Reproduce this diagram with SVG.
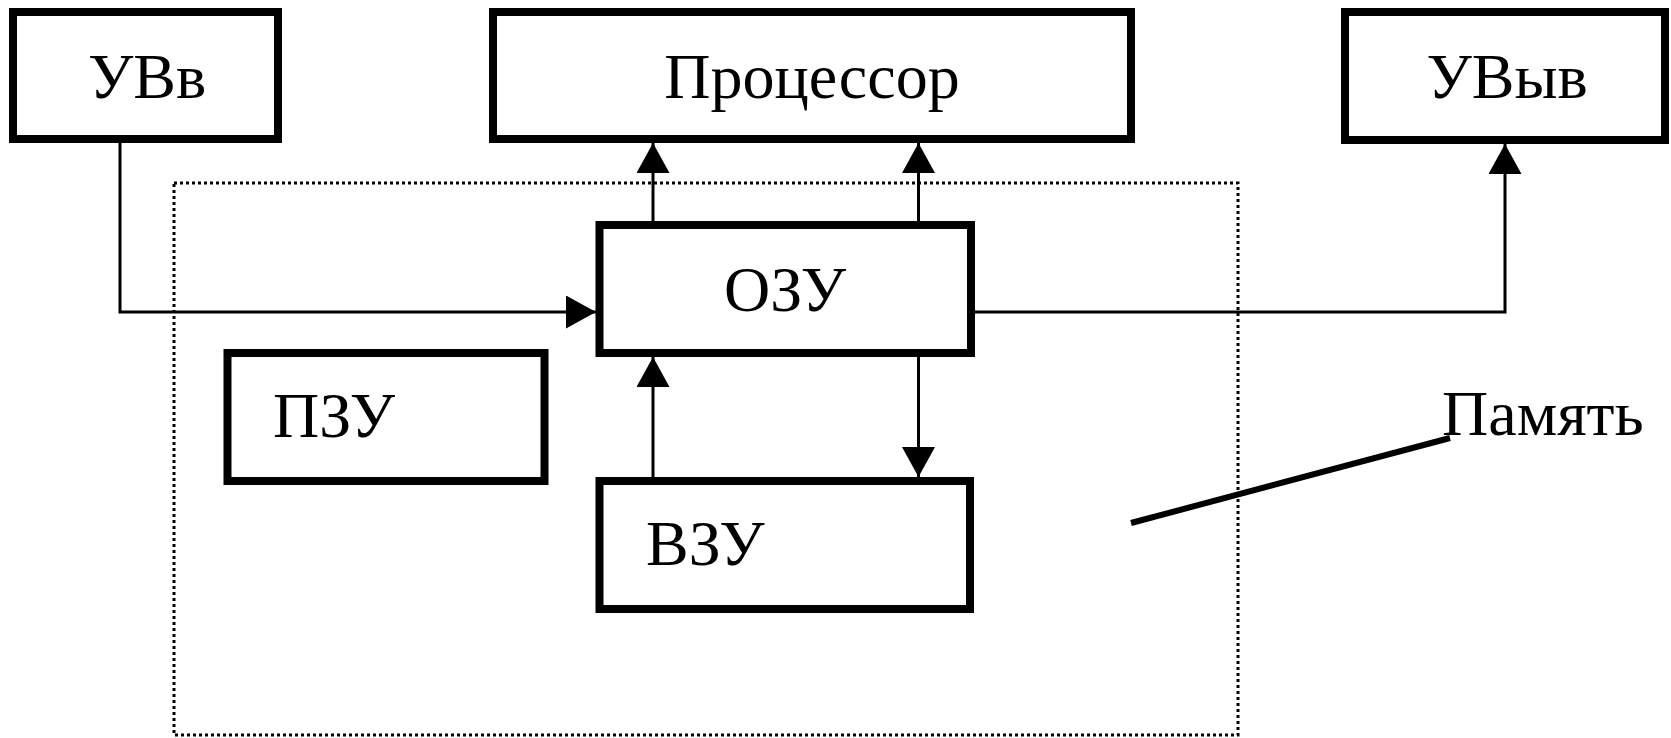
<svg xmlns="http://www.w3.org/2000/svg" width="1671" height="738" viewBox="0 0 1671 738">
<style>
.box{fill:#fff;stroke:#000;stroke-width:8}
.lbl{font-family:"Liberation Serif","Times New Roman",serif;font-size:64px;fill:#000}
.mid{text-anchor:middle}
.con{fill:none;stroke:#000;stroke-width:3}
.mem{fill:none;stroke:#000;stroke-width:3;stroke-dasharray:3 3}
</style>
<defs>
<marker id="arr" markerUnits="userSpaceOnUse" markerWidth="30" markerHeight="33" refX="30" refY="16.5" orient="auto">
<path d="M0,0 L30,16.5 L0,33 z" fill="#000"/>
</marker>
</defs>
<rect width="1671" height="738" fill="#fff"/>
<g id="memory">
<rect class="mem" x="174" y="183" width="1064" height="552"/>
<line x1="1131" y1="523" x2="1450" y2="438" stroke="#000" stroke-width="6"/>
<text class="lbl" x="1442" y="435">Память</text>
</g>
<g id="uvv">
<rect class="box" x="13" y="12" width="265" height="127"/>
<text class="lbl mid" x="147" y="98">УВв</text>
</g>
<g id="processor">
<rect class="box" x="493" y="12" width="638" height="127"/>
<text class="lbl mid" x="812" y="98">Процессор</text>
</g>
<g id="uvyv">
<rect class="box" x="1345" y="12" width="320" height="128"/>
<text class="lbl mid" x="1507" y="98">УВыв</text>
</g>
<g id="ozu">
<rect class="box" x="599.5" y="225" width="371.5" height="128"/>
<text class="lbl mid" x="785" y="311">ОЗУ</text>
</g>
<g id="pzu">
<rect class="box" x="227.5" y="353" width="317" height="128"/>
<text class="lbl" x="273" y="437">ПЗУ</text>
</g>
<g id="vzu">
<rect class="box" x="599.5" y="481" width="370.5" height="128"/>
<text class="lbl" x="646" y="565">ВЗУ</text>
</g>
<g id="connectors">
<polyline class="con" points="120,143 120,312 596,312" marker-end="url(#arr)"/>
<line class="con" x1="653" y1="221" x2="653" y2="143" marker-end="url(#arr)"/>
<line class="con" x1="918.5" y1="221" x2="918.5" y2="143" marker-end="url(#arr)"/>
<polyline class="con" points="975,312 1505,312 1505,144" marker-end="url(#arr)"/>
<line class="con" x1="653" y1="477" x2="653" y2="357" marker-end="url(#arr)"/>
<line class="con" x1="918.5" y1="357" x2="918.5" y2="477" marker-end="url(#arr)"/>
</g>
</svg>
